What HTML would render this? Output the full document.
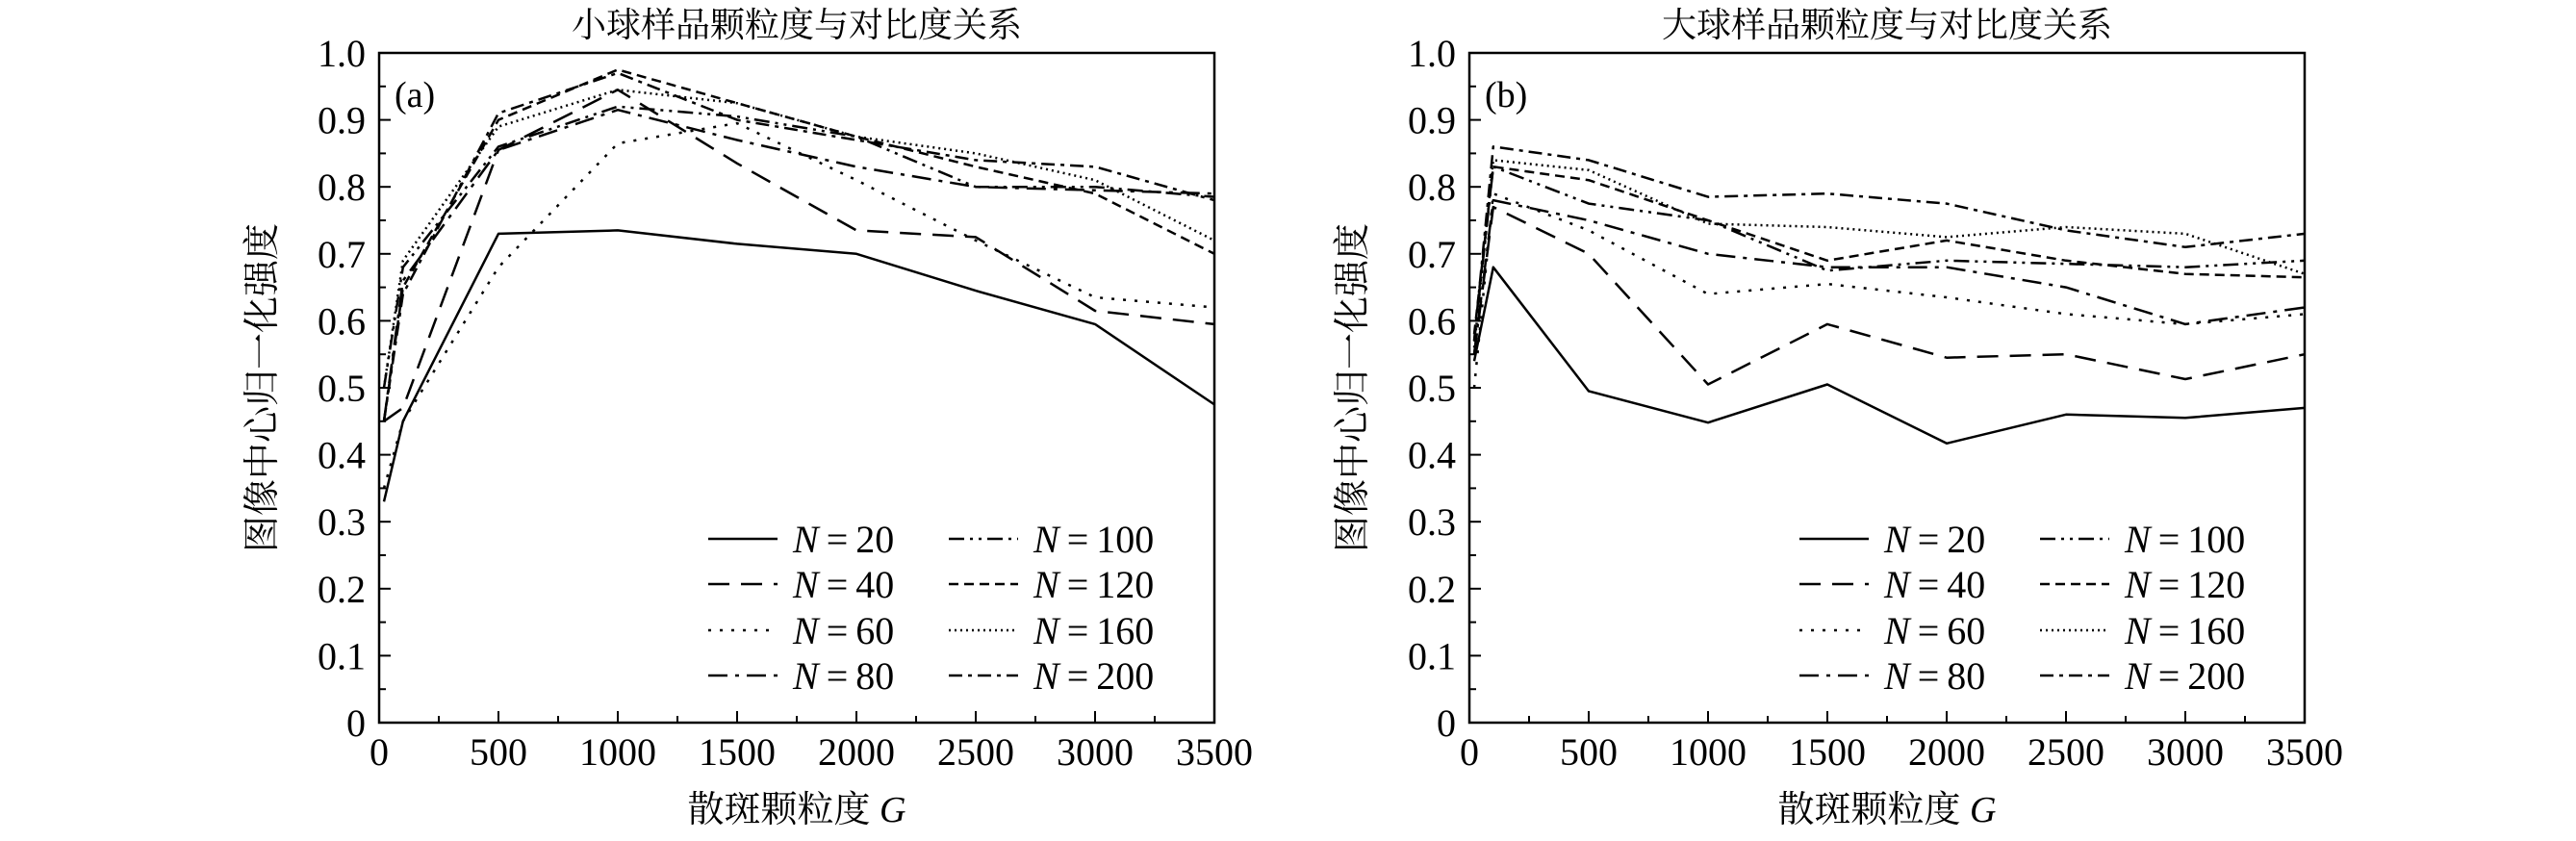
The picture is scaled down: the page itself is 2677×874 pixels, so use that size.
<!DOCTYPE html>
<html><head><meta charset="utf-8"><style>
html,body{margin:0;padding:0;background:#fff;}
svg{display:block;}
text{font-family:"Liberation Serif","Noto Serif CJK SC",serif;fill:#000;}
</style></head><body>
<svg id="chart" width="2677" height="874" xmlns="http://www.w3.org/2000/svg"></svg>
<script>
const xValues=[20,100,500,1000,1500,2000,2500,3000,3500];
const seriesNames=["N = 20","N = 40","N = 60","N = 80","N = 100","N = 120","N = 160","N = 200"];
const smallN20=[0.33,0.45,0.73,0.735,0.715,0.70,0.645,0.595,0.475];
const smallN40=[0.45,0.47,0.855,0.945,0.835,0.735,0.725,0.615,0.595];
const smallN60=[0.35,0.45,0.68,0.865,0.895,0.81,0.72,0.635,0.62];
const smallN80=[0.45,0.66,0.855,0.915,0.87,0.83,0.80,0.795,0.79];
const smallN100=[0.50,0.68,0.86,0.92,0.905,0.875,0.80,0.80,0.785];
const smallN120=[0.45,0.65,0.90,0.975,0.925,0.875,0.83,0.79,0.70];
const smallN160=[0.50,0.69,0.89,0.945,0.925,0.875,0.85,0.81,0.72];
const smallN200=[0.45,0.64,0.91,0.97,0.90,0.87,0.84,0.83,0.78];
const bigN20=[0.54,0.68,0.495,0.448,0.505,0.417,0.46,0.455,0.47];
const bigN40=[0.55,0.77,0.70,0.505,0.595,0.545,0.55,0.513,0.55];
const bigN60=[0.50,0.79,0.735,0.64,0.655,0.635,0.61,0.595,0.61];
const bigN80=[0.55,0.78,0.75,0.70,0.68,0.68,0.65,0.595,0.62];
const bigN100=[0.57,0.83,0.775,0.75,0.675,0.69,0.685,0.68,0.69];
const bigN120=[0.58,0.83,0.81,0.75,0.69,0.72,0.69,0.67,0.665];
const bigN160=[0.56,0.84,0.825,0.745,0.74,0.725,0.74,0.73,0.67];
const bigN200=[0.57,0.86,0.84,0.785,0.79,0.775,0.735,0.71,0.73];
const xTicks=[0,500,1000,1500,2000,2500,3000,3500];
const yTicks=[0,0.1,0.2,0.3,0.4,0.5,0.6,0.7,0.8,0.9,1.0];
const yTickLabels=["0","0.1","0.2","0.3","0.4","0.5","0.6","0.7","0.8","0.9","1.0"];

const dashes=["","22,12","3,9","20,8,4,8","16,6,3,6,3,6","10,6","2,4","14,6,4,6"];
const NS="http://www.w3.org/2000/svg";
const svg=document.getElementById('chart');
function mk(tag,attrs,parent){const e=document.createElementNS(NS,tag);for(const k in attrs)e.setAttribute(k,attrs[k]);(parent||svg).appendChild(e);return e;}

function panel(key,L,R,T,B,title,label,series,legX){
  const g=mk('g',{});
  
  
  const xs=v=>L+(v/3500)*(R-L);
  const ys=v=>B-(v/1.0)*(B-T);
  const t=mk('text',{x:(L+R)/2,y:38,'font-size':36,'text-anchor':'middle'},g);t.textContent=title;
  
  
  const box=mk('rect',{x:L,y:T,width:R-L,height:B-T,fill:'none',stroke:'#000','stroke-width':2.5},g);
  
  
  for(let v=0;v<=3500;v+=250){const major=v%500===0;mk('line',{x1:xs(v),x2:xs(v),y1:B,y2:B-(major?12:7),stroke:'#000','stroke-width':2},g);}
  for(let i=0;i<=20;i++){const v=i*0.05;const major=i%2===0;mk('line',{x1:L,x2:L+(major?12:7),y1:ys(v),y2:ys(v),stroke:'#000','stroke-width':2},g);}
  xTicks.forEach(v=>{const e=mk('text',{x:xs(v),y:B+44,'font-size':40,'text-anchor':'middle'},g);e.textContent=v;
    
    });
  yTicks.forEach((v,i)=>{const e=mk('text',{x:L-14,y:ys(v)+14,'font-size':40,'text-anchor':'end'},g);e.textContent=yTickLabels[i];
    
    });
  const xt=mk('text',{x:(L+R)/2,y:854,'font-size':38,'text-anchor':'middle'},g);
  xt.innerHTML='散斑颗粒度 <tspan font-style="italic">G</tspan>';
  
  
  const cy=(T+B)/2, cx=L-122;
  const yt=mk('text',{x:cx,y:cy+13,'font-size':38,'text-anchor':'middle',transform:`rotate(-90 ${cx} ${cy})`},g);
  yt.textContent='图像中心归一化强度';
  
  
  const pl=mk('text',{x:L+16,y:T+56,'font-size':38},g);pl.textContent=label;
  
  
  series.forEach((vals,i)=>{
    const d=vals.map((v,j)=>(j?'L':'M')+xs(xValues[j]).toFixed(1)+','+ys(v).toFixed(1)).join(' ');
    const p=mk('path',{d:d,fill:'none',stroke:'#000','stroke-width':2.5,'stroke-dasharray':dashes[i],'stroke-linejoin':'round'},g);
    
    
  });
  const rows=[572,619,667,714];
  seriesNames.forEach((n,i)=>{
    const col=Math.floor(i/4),row=i%4;
    const lx=legX+col*250, ly=rows[row]-12;
    const lg=mk('g',{},g);
    
    
    mk('line',{x1:lx,x2:lx+72,y1:ly,y2:ly,stroke:'#000','stroke-width':2.5,'stroke-dasharray':dashes[i]},lg);
    const tx=mk('text',{x:lx+88,y:rows[row]+2,'font-size':40},lg);
    const num=n.replace('N = ','');
    tx.innerHTML='<tspan font-style="italic">N</tspan>\u2009=\u2009'+num;
  });
}
panel('a',394,1262,55,751,'小球样品颗粒度与对比度关系','(a)',[smallN20,smallN40,smallN60,smallN80,smallN100,smallN120,smallN160,smallN200],736);
panel('b',1527,2395,55,751,'大球样品颗粒度与对比度关系','(b)',[bigN20,bigN40,bigN60,bigN80,bigN100,bigN120,bigN160,bigN200],1870);
</script>
</body></html>
